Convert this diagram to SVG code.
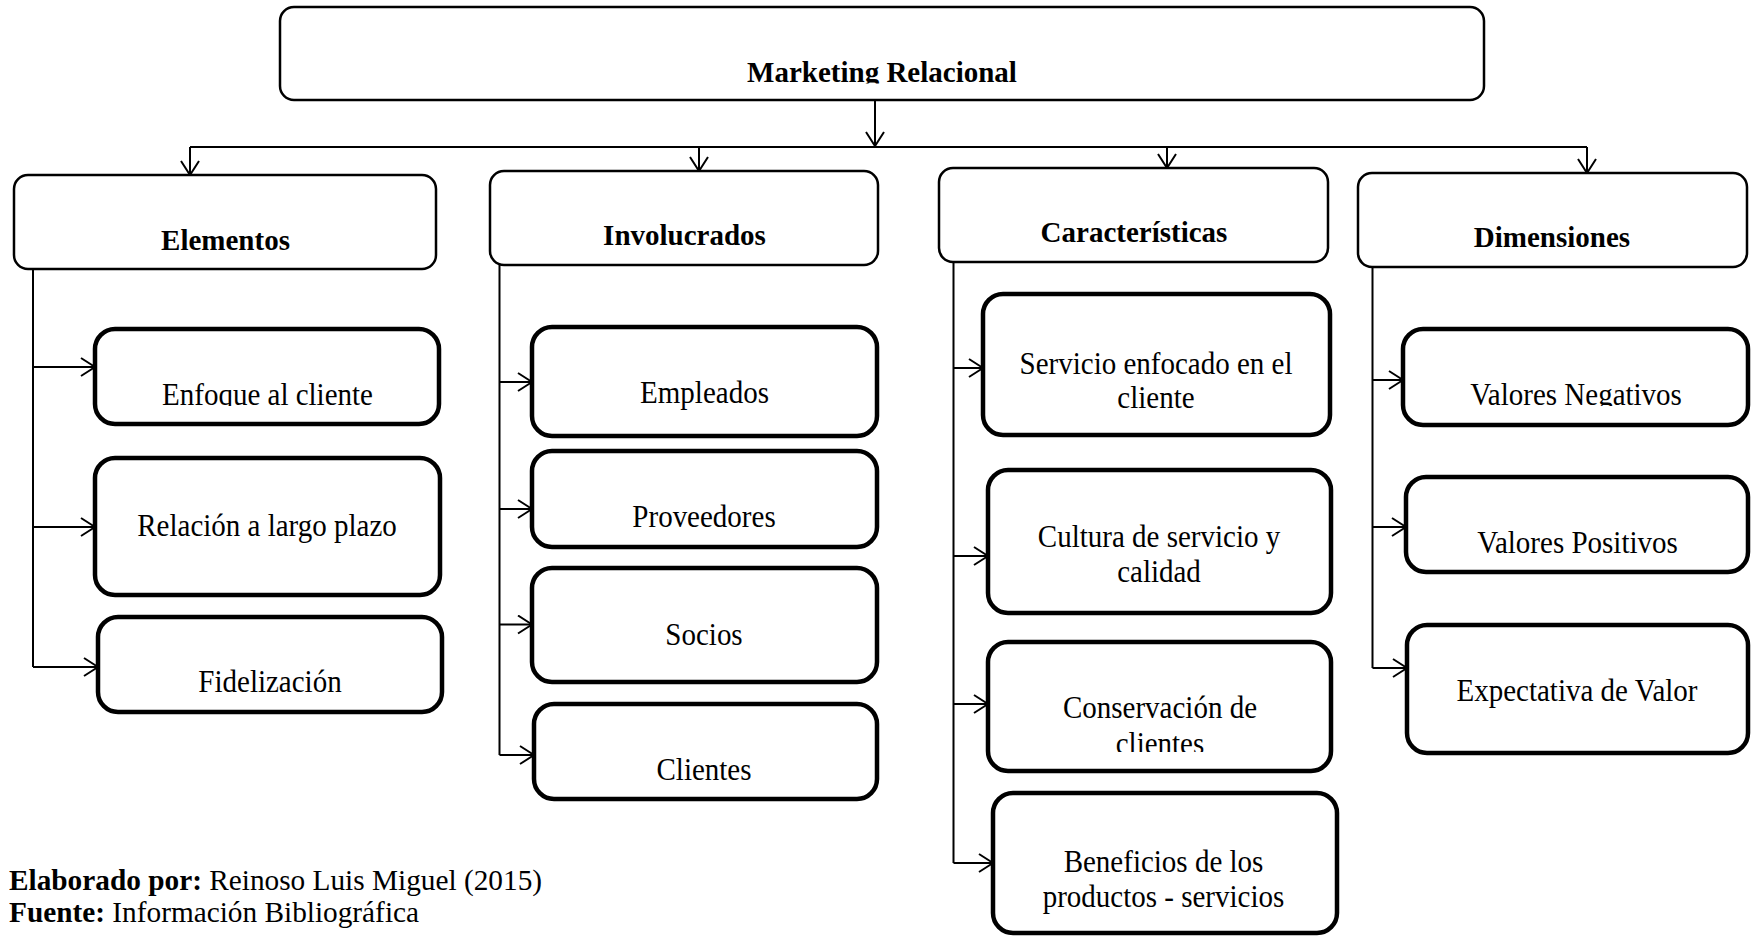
<svg xmlns="http://www.w3.org/2000/svg" width="1751" height="936" viewBox="0 0 1751 936">
  <style>
    .bg { fill: #ffffff; }
    .top { fill: #ffffff; stroke: #000; stroke-width: 2.5; }
    .cat { fill: #ffffff; stroke: #000; stroke-width: 2.5; }
    .item { fill: #ffffff; stroke: #000; stroke-width: 4.5; }
    .wire { fill: none; stroke: #000; stroke-width: 2; }
    .lbl { font-family: "Liberation Serif", "Times New Roman", serif; font-size: 29px; fill: #000; text-anchor: middle; }
    .hd { font-weight: bold; }
    .foot { font-family: "Liberation Serif", "Times New Roman", serif; font-size: 29.3px; fill: #000; }
  </style>
  <defs>
    <marker id="vee" viewBox="0 0 16 20" refX="15" refY="10" markerWidth="16" markerHeight="20" markerUnits="userSpaceOnUse" orient="auto">
      <path d="M1,1 L15,10 L1,19" fill="none" stroke="#000" stroke-width="2"/>
    </marker>
    <clipPath id="clip-top"><rect x="280" y="7" width="1204" height="76.5"/></clipPath>
    <clipPath id="clip-enfoque"><rect x="95" y="329" width="344" height="77"/></clipPath>
    <clipPath id="clip-negativos"><rect x="1403" y="329" width="345" height="77"/></clipPath>
    <clipPath id="clip-conservacion"><rect x="988" y="642" width="343" height="110"/></clipPath>
  </defs>

  <rect class="bg" x="0" y="0" width="1751" height="936"/>

  <!-- connectors -->
  <g id="connectors">
    <line class="wire" x1="875" y1="100" x2="875" y2="146" marker-end="url(#vee)"/>
    <line class="wire" x1="190" y1="147" x2="1587" y2="147"/>
    <line class="wire" x1="190" y1="147" x2="190" y2="175" marker-end="url(#vee)"/>
    <line class="wire" x1="699" y1="147" x2="699" y2="171" marker-end="url(#vee)"/>
    <line class="wire" x1="1167" y1="147" x2="1167" y2="168" marker-end="url(#vee)"/>
    <line class="wire" x1="1587" y1="147" x2="1587" y2="173" marker-end="url(#vee)"/>

    <!-- Elementos branch -->
    <line class="wire" x1="33" y1="269" x2="33" y2="667"/>
    <line class="wire" x1="33" y1="367" x2="95" y2="367" marker-end="url(#vee)"/>
    <line class="wire" x1="33" y1="527" x2="95" y2="527" marker-end="url(#vee)"/>
    <line class="wire" x1="33" y1="667" x2="98" y2="667" marker-end="url(#vee)"/>

    <!-- Involucrados branch -->
    <line class="wire" x1="499.5" y1="265" x2="499.5" y2="755"/>
    <line class="wire" x1="499.5" y1="382" x2="532" y2="382" marker-end="url(#vee)"/>
    <line class="wire" x1="499.5" y1="509" x2="532" y2="509" marker-end="url(#vee)"/>
    <line class="wire" x1="499.5" y1="624.5" x2="532" y2="624.5" marker-end="url(#vee)"/>
    <line class="wire" x1="499.5" y1="755" x2="534" y2="755" marker-end="url(#vee)"/>

    <!-- Caracteristicas branch -->
    <line class="wire" x1="953.5" y1="262" x2="953.5" y2="863"/>
    <line class="wire" x1="953.5" y1="368" x2="983" y2="368" marker-end="url(#vee)"/>
    <line class="wire" x1="953.5" y1="556" x2="988" y2="556" marker-end="url(#vee)"/>
    <line class="wire" x1="953.5" y1="704" x2="988" y2="704" marker-end="url(#vee)"/>
    <line class="wire" x1="953.5" y1="863" x2="993" y2="863" marker-end="url(#vee)"/>

    <!-- Dimensiones branch -->
    <line class="wire" x1="1372.5" y1="267" x2="1372.5" y2="668"/>
    <line class="wire" x1="1372.5" y1="380" x2="1403" y2="380" marker-end="url(#vee)"/>
    <line class="wire" x1="1372.5" y1="527" x2="1406" y2="527" marker-end="url(#vee)"/>
    <line class="wire" x1="1372.5" y1="668" x2="1407" y2="668" marker-end="url(#vee)"/>
  </g>

  <!-- root -->
  <g id="marketing-relacional">
    <rect class="top" x="280" y="7" width="1204" height="93" rx="14"/>
    <text class="lbl hd" x="882" y="82" clip-path="url(#clip-top)">Marketing Relacional</text>
  </g>

  <!-- categories -->
  <g id="elementos">
    <rect class="cat" x="14" y="175" width="422" height="94" rx="14"/>
    <text class="lbl hd" x="225.5" y="250">Elementos</text>
  </g>
  <g id="involucrados">
    <rect class="cat" x="490" y="171" width="388" height="94" rx="14"/>
    <text class="lbl hd" x="684.5" y="245">Involucrados</text>
  </g>
  <g id="caracteristicas">
    <rect class="cat" x="939" y="168" width="389" height="94" rx="14"/>
    <text class="lbl hd" x="1134" y="241.5">Características</text>
  </g>
  <g id="dimensiones">
    <rect class="cat" x="1358" y="173" width="389" height="94" rx="14"/>
    <text class="lbl hd" x="1552" y="247">Dimensiones</text>
  </g>

  <!-- Elementos items (labels slightly tall: scale 1 x 1.06) -->
  <g id="enfoque-al-cliente">
    <rect class="item" x="95" y="329" width="344" height="95" rx="20"/>
    <g clip-path="url(#clip-enfoque)">
      <text class="lbl" transform="translate(267.5 405) scale(1 1.06)">Enfoque al cliente</text>
    </g>
  </g>
  <g id="relacion-largo-plazo">
    <rect class="item" x="95" y="458" width="345" height="137" rx="20"/>
    <text class="lbl" transform="translate(267 536) scale(1 1.06)">Relación a largo plazo</text>
  </g>
  <g id="fidelizacion">
    <rect class="item" x="98" y="617" width="344" height="95" rx="20"/>
    <text class="lbl" transform="translate(270 692) scale(1 1.06)">Fidelización</text>
  </g>

  <!-- Involucrados items -->
  <g id="empleados">
    <rect class="item" x="532" y="327" width="345" height="109" rx="20"/>
    <text class="lbl" transform="translate(704.5 403) scale(1 1.06)">Empleados</text>
  </g>
  <g id="proveedores">
    <rect class="item" x="532" y="451" width="345" height="96" rx="20"/>
    <text class="lbl" transform="translate(704 526.5) scale(1 1.06)">Proveedores</text>
  </g>
  <g id="socios">
    <rect class="item" x="532" y="568" width="345" height="114" rx="20"/>
    <text class="lbl" transform="translate(704 645) scale(1 1.06)">Socios</text>
  </g>
  <g id="clientes">
    <rect class="item" x="534" y="704" width="343" height="95" rx="20"/>
    <text class="lbl" transform="translate(704 780) scale(1 1.06)">Clientes</text>
  </g>

  <!-- Caracteristicas items -->
  <g id="servicio-enfocado">
    <rect class="item" x="983" y="294" width="347" height="141" rx="20"/>
    <text class="lbl" transform="translate(1156 374) scale(1 1.06)">Servicio enfocado en el</text>
    <text class="lbl" transform="translate(1156 408) scale(1 1.06)">cliente</text>
  </g>
  <g id="cultura-servicio">
    <rect class="item" x="988" y="470" width="343" height="143" rx="20"/>
    <text class="lbl" transform="translate(1159 546.5) scale(1 1.06)">Cultura de servicio y</text>
    <text class="lbl" transform="translate(1159 581.5) scale(1 1.06)">calidad</text>
  </g>
  <g id="conservacion-clientes">
    <rect class="item" x="988" y="642" width="343" height="129" rx="20"/>
    <g clip-path="url(#clip-conservacion)">
      <text class="lbl" transform="translate(1160 718) scale(1 1.06)">Conservación de</text>
      <text class="lbl" transform="translate(1160 754) scale(1 1.06)">clientes</text>
    </g>
  </g>
  <g id="beneficios">
    <rect class="item" x="993" y="793" width="344" height="140" rx="20"/>
    <text class="lbl" transform="translate(1163.5 871.5) scale(1 1.06)">Beneficios de los</text>
    <text class="lbl" transform="translate(1163.5 906.5) scale(1 1.06)">productos - servicios</text>
  </g>

  <!-- Dimensiones items -->
  <g id="valores-negativos">
    <rect class="item" x="1403" y="329" width="345" height="96" rx="20"/>
    <g clip-path="url(#clip-negativos)">
      <text class="lbl" transform="translate(1576 405) scale(1 1.06)">Valores Negativos</text>
    </g>
  </g>
  <g id="valores-positivos">
    <rect class="item" x="1406" y="477" width="342" height="95" rx="20"/>
    <text class="lbl" transform="translate(1577.5 552.5) scale(1 1.06)">Valores Positivos</text>
  </g>
  <g id="expectativa-valor">
    <rect class="item" x="1407" y="625" width="341" height="128" rx="20"/>
    <text class="lbl" transform="translate(1577 700.5) scale(1 1.06)">Expectativa de Valor</text>
  </g>

  <!-- source note -->
  <g id="nota">
    <text class="foot" x="9" y="890"><tspan font-weight="bold">Elaborado por:</tspan> Reinoso Luis Miguel (2015)</text>
    <text class="foot" x="9" y="922"><tspan font-weight="bold">Fuente:</tspan> Información Bibliográfica</text>
  </g>
</svg>
